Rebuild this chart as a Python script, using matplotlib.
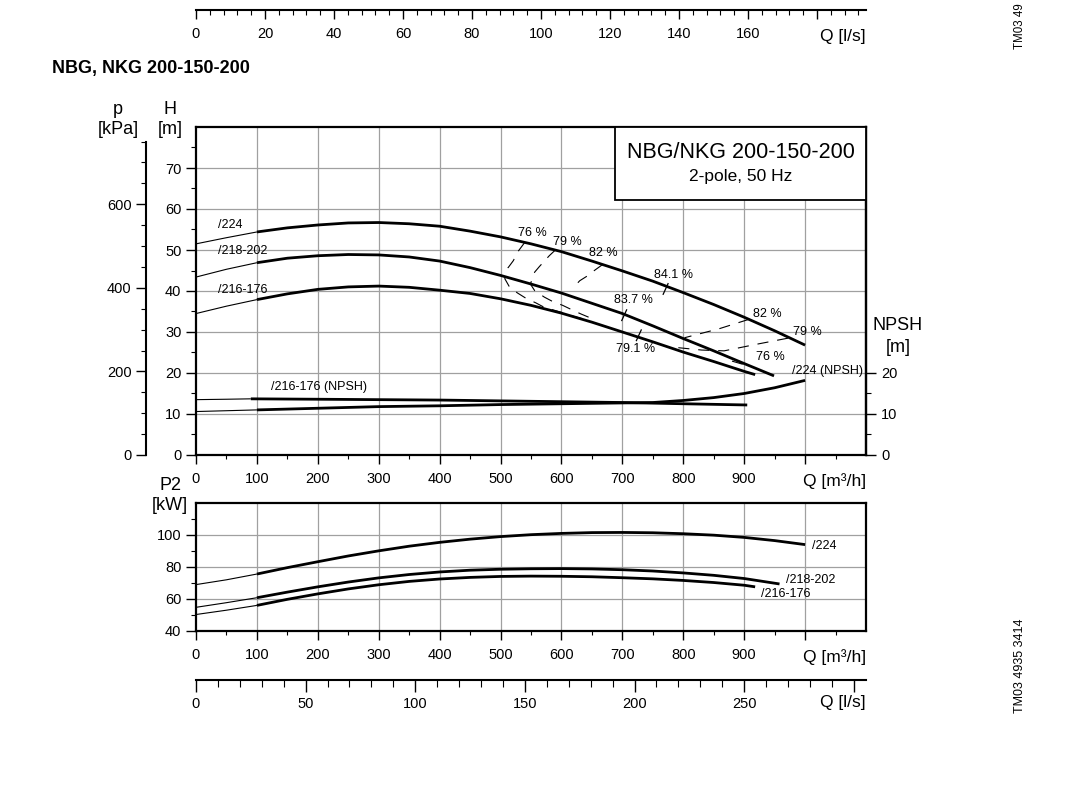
import matplotlib
matplotlib.use('Agg')
import matplotlib.pyplot as plt
from matplotlib.ticker import FixedLocator, FixedFormatter
from matplotlib.patches import Rectangle

plt.rcParams['font.family'] = ['Liberation Sans', 'DejaVu Sans']

# ---------------- data ----------------
# Head curves H [m] vs Q [m3/h]
q_224 = [0, 50, 100, 150, 200, 250, 300, 350, 400, 450, 500, 550, 600, 650, 700, 750, 800, 850, 900, 950, 1000]
h_224 = [51.5, 53.0, 54.4, 55.4, 56.1, 56.6, 56.7, 56.4, 55.8, 54.6, 53.2, 51.5, 49.6, 47.3, 44.9, 42.4, 39.6, 36.7, 33.6, 30.3, 26.8]

q_218 = [0, 50, 100, 150, 200, 250, 300, 350, 400, 450, 500, 550, 600, 650, 700, 750, 800, 850, 900, 949]
h_218 = [43.4, 45.3, 46.9, 48.0, 48.6, 48.9, 48.8, 48.3, 47.3, 45.7, 43.8, 41.7, 39.5, 37.0, 34.5, 31.5, 28.4, 25.4, 22.3, 19.3]

q_216 = [0, 50, 100, 150, 200, 250, 300, 350, 400, 450, 500, 550, 600, 650, 700, 750, 800, 850, 900, 918]
h_216 = [34.5, 36.3, 37.9, 39.3, 40.4, 41.0, 41.2, 40.9, 40.2, 39.4, 38.1, 36.5, 34.6, 32.4, 30.0, 27.6, 25.1, 22.8, 20.4, 19.6]

# NPSH curves [m]
q_npsh216 = [0, 50, 90, 200, 300, 400, 500, 600, 700, 800, 905]
n_npsh216 = [13.5, 13.6, 13.7, 13.6, 13.5, 13.4, 13.2, 13.0, 12.8, 12.5, 12.2]
q_npsh224 = [0, 50, 100, 200, 300, 400, 500, 600, 700, 750, 800, 850, 900, 950, 1000]
n_npsh224 = [10.6, 10.8, 11.0, 11.4, 11.8, 12.0, 12.3, 12.5, 12.7, 12.8, 13.3, 14.0, 15.0, 16.4, 18.2]

# Power curves P2 [kW]
q_p224 = [0, 50, 100, 150, 200, 250, 300, 350, 400, 450, 500, 550, 600, 650, 700, 750, 800, 850, 900, 950, 1000]
p_p224 = [69.0, 72.0, 75.6, 79.6, 83.3, 86.9, 90.1, 93.0, 95.4, 97.4, 99.0, 100.2, 101.0, 101.5, 101.6, 101.4, 100.8, 99.9, 98.5, 96.5, 94.0]
q_p218 = [0, 50, 100, 150, 200, 250, 300, 350, 400, 450, 500, 550, 600, 650, 700, 750, 800, 850, 900, 958]
p_p218 = [54.8, 57.7, 60.8, 64.3, 67.6, 70.6, 73.2, 75.3, 76.9, 78.0, 78.6, 78.9, 79.0, 78.8, 78.3, 77.5, 76.3, 74.8, 72.8, 69.4]
q_p216 = [0, 50, 100, 150, 200, 250, 300, 350, 400, 450, 500, 550, 600, 650, 700, 750, 800, 850, 900, 918]
p_p216 = [50.3, 53.0, 56.0, 59.8, 63.2, 66.3, 68.9, 71.0, 72.5, 73.5, 74.1, 74.3, 74.2, 73.9, 73.3, 72.6, 71.6, 70.3, 68.6, 67.6]

# Iso-efficiency lines (Q, H)
eff76_left_q = [540, 528, 521, 512, 507, 515, 528, 542, 558, 572, 602, 616, 640]
eff76_left_h = [51.9, 49.5, 47.4, 45.6, 43.0, 40.9, 39.5, 38.2, 37.1, 36.0, 34.7, 34.0, 33.0]
eff79_left_q = [590, 580, 564, 556, 549, 556, 572, 586, 602, 616, 632, 648, 658]
eff79_left_h = [50.0, 48.6, 46.0, 44.6, 41.7, 40.1, 38.5, 37.4, 36.5, 35.5, 34.4, 33.4, 32.8]
eff82_left_q = [668, 654, 646, 630, 618]
eff82_left_h = [46.5, 45.0, 44.0, 42.5, 40.6]
eff82_right_q = [908, 859, 802]
eff82_right_h = [33.1, 30.8, 28.6]
eff79_right_q = [972, 920, 867, 830, 790]
eff79_right_h = [28.5, 27.0, 25.4, 25.6, 26.2]
eff76_right_q = [880, 903]
eff76_right_h = [22.9, 21.9]

# Best-efficiency marks on each curve
best_q = [771, 703, 727]
best_h = [40.5, 34.1, 29.2]

eff_labels = ['76 %', '79 %', '82 %', '84.1 %', '83.7 %', '79.1 %', '82 %', '79 %', '76 %']
eff_label_q = [552, 610, 669, 784, 718, 721, 938, 1003, 943]
eff_label_h = [54.2, 52.0, 49.3, 44.0, 37.7, 25.8, 34.5, 30.1, 23.8]

curve_names = ['/224', '/218-202', '/216-176']

h_ticks = [0, 10, 20, 30, 40, 50, 60, 70]
p_ticks = [0, 200, 400, 600]
npsh_ticks = [0, 10, 20]
q_ticks = [0, 100, 200, 300, 400, 500, 600, 700, 800, 900]
p2_ticks = [40, 60, 80, 100]
ls_top_ticks = [0, 20, 40, 60, 80, 100, 120, 140, 160]
ls_bot_ticks = [0, 50, 100, 150, 200, 250]

# ---------------- figure ----------------
W, Hh = 1087, 794
fig = plt.figure(figsize=(W / 100, Hh / 100), dpi=100)
fig.patch.set_facecolor('white')


def fx(x):
    return x / W


def fy(y):
    return 1 - y / Hh


def rect(x0, y0, x1, y1):
    return [fx(x0), fy(y1), fx(x1) - fx(x0), fy(y0) - fy(y1)]


TL = 10.5   # tick label size
GRID = dict(color='#a0a0a0', lw=0.9)
SPW = 1.6
THICK = 2.0
THIN = 0.8


def split(q, v, qs):
    thin_q = [a for a in q if a <= qs]
    thin_v = [b for a, b in zip(q, v) if a <= qs]
    thick_q = [a for a in q if a >= qs]
    thick_v = [b for a, b in zip(q, v) if a >= qs]
    return thin_q, thin_v, thick_q, thick_v


def draw_curve(ax, q, v, qs):
    a, b, c, d = split(q, v, qs)
    ax.plot(a, b, color='black', lw=THIN, solid_capstyle='butt', zorder=4)
    ax.plot(c, d, color='black', lw=THICK, solid_capstyle='butt', solid_joinstyle='round', zorder=4)


def style_q_axis(ax):
    ax.set_xlim(0, 1100)
    ax.xaxis.set_major_locator(FixedLocator(q_ticks + [1000]))
    ax.xaxis.set_major_formatter(FixedFormatter([str(t) for t in q_ticks] + ['']))
    ax.xaxis.set_minor_locator(FixedLocator([50 + 100 * i for i in range(11)]))
    ax.tick_params(axis='x', which='major', direction='out', length=6.5, width=1.0,
                   pad=6, labelsize=TL, top=False)
    ax.tick_params(axis='x', which='minor', direction='out', length=3.2, width=0.8, top=False)
    for xv in range(100, 1100, 100):
        ax.axvline(xv, zorder=1, **GRID)
    for s in ax.spines.values():
        s.set_linewidth(SPW)


# ---- upper (head) axes ----
axH = fig.add_axes(rect(196, 127, 866, 455))
style_q_axis(axH)
axH.set_ylim(0, 80)
axH.yaxis.set_major_locator(FixedLocator(h_ticks))
axH.yaxis.set_minor_locator(FixedLocator([5 + 10 * i for i in range(8)]))
axH.tick_params(axis='y', which='major', direction='out', length=7, width=1.0, pad=3.5, labelsize=TL)
axH.tick_params(axis='y', which='minor', direction='out', length=3.5, width=0.8)
for yv in range(10, 80, 10):
    axH.axhline(yv, zorder=1, **GRID)

draw_curve(axH, q_224, h_224, 100)
draw_curve(axH, q_218, h_218, 100)
draw_curve(axH, q_216, h_216, 100)
draw_curve(axH, q_npsh216, n_npsh216, 90)
draw_curve(axH, q_npsh224, n_npsh224, 100)

dash = (0, (10, 8))
for qq, hh in [(eff76_left_q, eff76_left_h), (eff79_left_q, eff79_left_h),
               (eff82_left_q, eff82_left_h), (eff82_right_q, eff82_right_h),
               (eff79_right_q, eff79_right_h), (eff76_right_q, eff76_right_h)]:
    axH.plot(qq, hh, color='black', lw=0.8, linestyle=dash, zorder=3)

for qb, hb in zip(best_q, best_h):
    axH.plot([qb - 4, qb + 4], [hb - 1.3, hb + 1.3], color='black', lw=0.9, zorder=5)

for t, qx, hy in zip(eff_labels, eff_label_q, eff_label_h):
    axH.text(qx, hy, t, fontsize=9, ha='center', va='center', zorder=6)

axH.text(36, 56.2, curve_names[0], fontsize=9, ha='left', va='center', zorder=6)
axH.text(36, 49.8, curve_names[1], fontsize=9, ha='left', va='center', zorder=6)
axH.text(36, 40.3, curve_names[2], fontsize=9, ha='left', va='center', zorder=6)
axH.text(123, 16.5, curve_names[2] + ' (NPSH)', fontsize=9, ha='left', va='center', zorder=6)
axH.text(979, 20.5, curve_names[0] + ' (NPSH)', fontsize=9, ha='left', va='center', zorder=6)

# title box
box = Rectangle((fx(615), fy(200)), fx(866) - fx(615), fy(127) - fy(200), transform=fig.transFigure,
                facecolor='white', edgecolor='black', lw=1.3, zorder=10)
fig.add_artist(box)
fig.text(fx(741), fy(153), 'NBG/NKG 200-150-200', fontsize=15.5, ha='center', va='center', zorder=11)
fig.text(fx(741), fy(177), '2-pole, 50 Hz', fontsize=12.5, ha='center', va='center', zorder=11)

# NPSH right axis
axN = axH.twinx()
axN.set_ylim(0, 80)
axN.yaxis.set_major_locator(FixedLocator(npsh_ticks))
axN.yaxis.set_minor_locator(FixedLocator([5, 15]))
axN.tick_params(axis='y', which='major', direction='out', length=7, width=1.0, pad=4, labelsize=TL)
axN.tick_params(axis='y', which='minor', direction='out', length=3.5, width=0.8)
for s in axN.spines.values():
    s.set_visible(False)
axN.spines['right'].set_visible(True)
axN.spines['right'].set_linewidth(SPW)

# p [kPa] axis
axP = fig.add_axes(rect(146, 127, 146.01, 455))
axP.patch.set_visible(False)
axP.set_ylim(0, 80 * 9.81)
for k in ['top', 'right', 'bottom']:
    axP.spines[k].set_visible(False)
axP.spines['left'].set_bounds(0, 750)
axP.spines['left'].set_linewidth(1.5)
axP.xaxis.set_visible(False)
axP.yaxis.set_major_locator(FixedLocator(p_ticks))
axP.yaxis.set_minor_locator(FixedLocator([50, 100, 150, 250, 300, 350, 450, 500, 550, 650, 700, 750]))
axP.tick_params(axis='y', which='major', direction='out', length=7, width=1.0, pad=3.5, labelsize=TL)
axP.tick_params(axis='y', which='minor', direction='out', length=3.5, width=0.8)

fig.text(fx(118), fy(110), 'p', fontsize=13, ha='center', va='center')
fig.text(fx(118), fy(130), '[kPa]', fontsize=13, ha='center', va='center')
fig.text(fx(170), fy(110), 'H', fontsize=13, ha='center', va='center')
fig.text(fx(170), fy(130), '[m]', fontsize=13, ha='center', va='center')
fig.text(fx(898), fy(325), 'NPSH', fontsize=13, ha='center', va='center')
fig.text(fx(898), fy(347), '[m]', fontsize=13, ha='center', va='center')
fig.text(fx(866), fy(481), 'Q [m³/h]', fontsize=12.5, ha='right', va='center')

# ---- lower (power) axes ----
axP2 = fig.add_axes(rect(196, 503, 866, 631))
style_q_axis(axP2)
axP2.set_ylim(40, 120)
axP2.yaxis.set_major_locator(FixedLocator(p2_ticks))
axP2.yaxis.set_minor_locator(FixedLocator([50, 70, 90, 110]))
axP2.tick_params(axis='y', which='major', direction='out', length=7, width=1.0, pad=3.5, labelsize=TL)
axP2.tick_params(axis='y', which='minor', direction='out', length=3.5, width=0.8)
for yv in [60, 80, 100]:
    axP2.axhline(yv, zorder=1, **GRID)

draw_curve(axP2, q_p224, p_p224, 100)
draw_curve(axP2, q_p218, p_p218, 100)
draw_curve(axP2, q_p216, p_p216, 100)

axP2.text(1011, 93.3, curve_names[0], fontsize=9, ha='left', va='center')
axP2.text(969, 71.8, curve_names[1], fontsize=9, ha='left', va='center')
axP2.text(928, 63.3, curve_names[2], fontsize=9, ha='left', va='center')

fig.text(fx(170), fy(486), 'P2', fontsize=13, ha='center', va='center')
fig.text(fx(170), fy(506), '[kW]', fontsize=13, ha='center', va='center')
fig.text(fx(866), fy(657), 'Q [m³/h]', fontsize=12.5, ha='right', va='center')


# ---- l/s scales ----
def ls_axis(y, xmax, major, minor, labels_major, mlen, nlen, pad):
    ax = fig.add_axes(rect(196, y - 0.01, 866, y))
    ax.patch.set_visible(False)
    for k in ['top', 'right', 'left']:
        ax.spines[k].set_visible(False)
    ax.spines['bottom'].set_linewidth(1.5)
    ax.set_xlim(0, xmax)
    ax.yaxis.set_visible(False)
    ax.xaxis.set_major_locator(FixedLocator(major))
    ax.xaxis.set_major_formatter(FixedFormatter(labels_major))
    ax.xaxis.set_minor_locator(FixedLocator(minor))
    ax.tick_params(axis='x', which='major', direction='out', length=mlen, width=1.0, pad=pad, labelsize=TL)
    ax.tick_params(axis='x', which='minor', direction='out', length=nlen, width=0.8)
    return ax


top_major = ls_top_ticks + [180]
ls_axis(10, 670 / 3.45, top_major, [m for m in range(4, 194, 4) if m % 20 != 0],
        [str(t) for t in ls_top_ticks] + [''], 6.5, 3.5, 6)
bot_major = ls_bot_ticks + [300]
ls_axis(680, 1100 / 3.6, bot_major, [m for m in range(10, 305, 10) if m % 50 != 0],
        [str(t) for t in ls_bot_ticks] + [''], 8.5, 5, 3.5)
fig.text(fx(866), fy(36), 'Q [l/s]', fontsize=12.5, ha='right', va='center')
fig.text(fx(866), fy(703), 'Q [l/s]', fontsize=12.5, ha='right', va='center')

fig.text(fx(52), fy(69), 'NBG, NKG 200-150-200', fontsize=13, fontweight='bold', ha='left', va='center')
fig.text(fx(1020), fy(713), 'TM03 4935 3414', fontsize=9, rotation=90, ha='center', va='bottom')
fig.text(fx(1020), fy(49), 'TM03 49', fontsize=8.3, rotation=90, ha='center', va='bottom')

fig.savefig('out.png', dpi=100)
